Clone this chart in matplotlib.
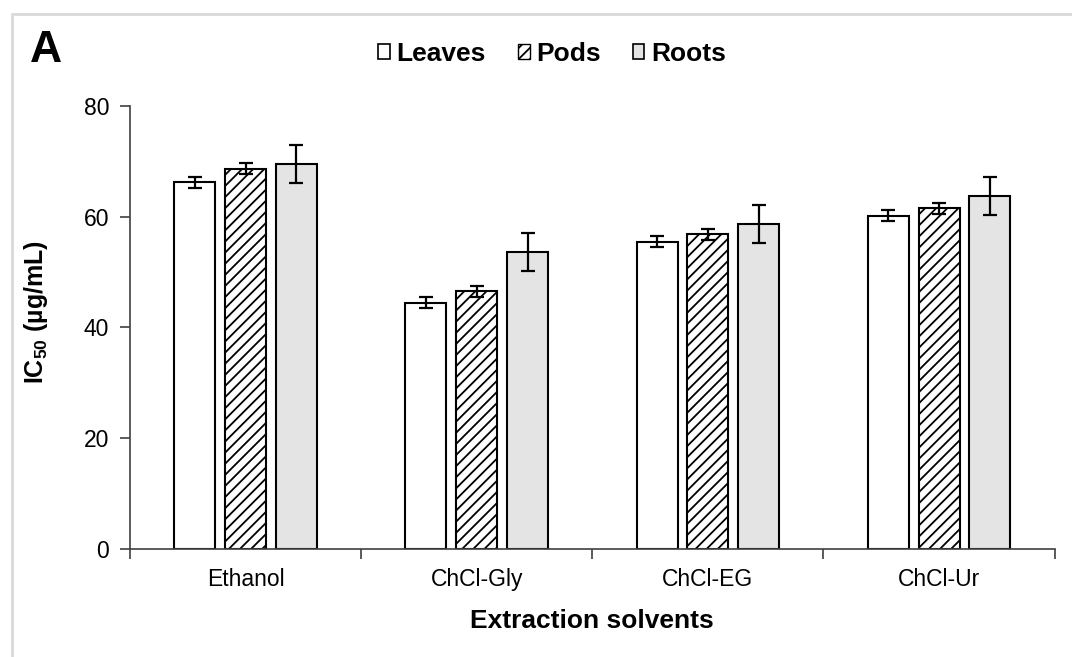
import numpy as np
import matplotlib.pyplot as plt
from matplotlib.patches import Rectangle, Patch

plt.rcParams['font.family'] = ['Liberation Sans', 'DejaVu Sans']
plt.rcParams['mathtext.fontset'] = 'custom'
plt.rcParams['mathtext.rm'] = 'Liberation Sans'
plt.rcParams['mathtext.bf'] = 'Liberation Sans:bold'
plt.rcParams['hatch.linewidth'] = 1.3
plt.rcParams['hatch.color'] = '#303030'

# data
solvents = ['Ethanol', 'ChCl-Gly', 'ChCl-EG', 'ChCl-Ur']
leaves = [66.2, 44.5, 55.5, 60.2]
leaves_err = [1.0, 1.0, 1.0, 1.0]
pods = [68.7, 46.5, 56.8, 61.5]
pods_err = [1.0, 1.0, 1.0, 1.0]
roots = [69.5, 53.6, 58.7, 63.7]
roots_err = [3.4, 3.4, 3.4, 3.4]

fig = plt.figure(figsize=(10.72, 6.57), dpi=100)
ax = fig.add_axes([0.1213, 0.1644, 0.8625, 0.6743])

# light grey chart-area border
fig.patches.append(Rectangle((12 / 1072, -0.1), 1.2, 1.1 - 14 / 657, transform=fig.transFigure,
                             fill=False, edgecolor='#d9d9d9', linewidth=2))

x = np.arange(len(solvents))
w = 0.177
off = 0.22
ekw = dict(elinewidth=1.6, capthick=1.6, capsize=5, ecolor='black')

ax.bar(x - off, leaves, w, yerr=leaves_err, color='white', edgecolor='black', linewidth=1.5,
       error_kw=ekw, label='Leaves')
ax.bar(x, pods, w, yerr=pods_err, color='white', edgecolor='black', linewidth=1.5, hatch='///',
       error_kw=ekw, label='Pods')
ax.bar(x + off, roots, w, yerr=roots_err, color='#e4e4e4', edgecolor='black', linewidth=1.5,
       error_kw=ekw, label='Roots')

ax.set_xlim(-0.5, len(solvents) - 0.5)
ax.set_ylim(0, 80)
ax.set_yticks([0, 20, 40, 60, 80])
ax.set_xticks(x)
ax.set_xticklabels(solvents)
ax.set_xticks(np.arange(len(solvents) + 1) - 0.5, minor=True)
ax.tick_params(axis='x', which='major', length=0, pad=14, labelsize=16.5)
ax.tick_params(axis='x', which='minor', length=7, width=1.2, color='#404040')
ax.tick_params(axis='y', length=7, width=1.2, color='#404040', labelsize=16.5, pad=8)

for s in ['top', 'right']:
    ax.spines[s].set_visible(False)
for s in ['left', 'bottom']:
    ax.spines[s].set_color('#404040')
    ax.spines[s].set_linewidth(1.2)

ax.set_xlabel('Extraction solvents', fontsize=19, fontweight='bold', labelpad=13)
ax.set_ylabel(r'IC$_\mathbf{50}$ (µg/mL)', fontsize=18, fontweight='bold')
ax.yaxis.set_label_coords(-0.0865, 0.535)

handles = [Patch(facecolor='white', edgecolor='black', linewidth=1.2),
           Patch(facecolor='white', edgecolor='black', linewidth=1.0, hatch='///'),
           Patch(facecolor='#e4e4e4', edgecolor='black', linewidth=1.2)]
fig.legend(handles, ['Leaves', 'Pods', 'Roots'], loc='center', bbox_to_anchor=(0.515, 0.918),
           ncol=3, frameon=False, prop={'weight': 'bold', 'size': 19},
           handlelength=0.45, handleheight=0.45, handletextpad=0.25, columnspacing=1.2)

fig.text(30 / 1072, 1 - 50 / 657, 'A', fontsize=32, fontweight='bold', va='center', ha='left')

fig.savefig('out.png', dpi=100)
